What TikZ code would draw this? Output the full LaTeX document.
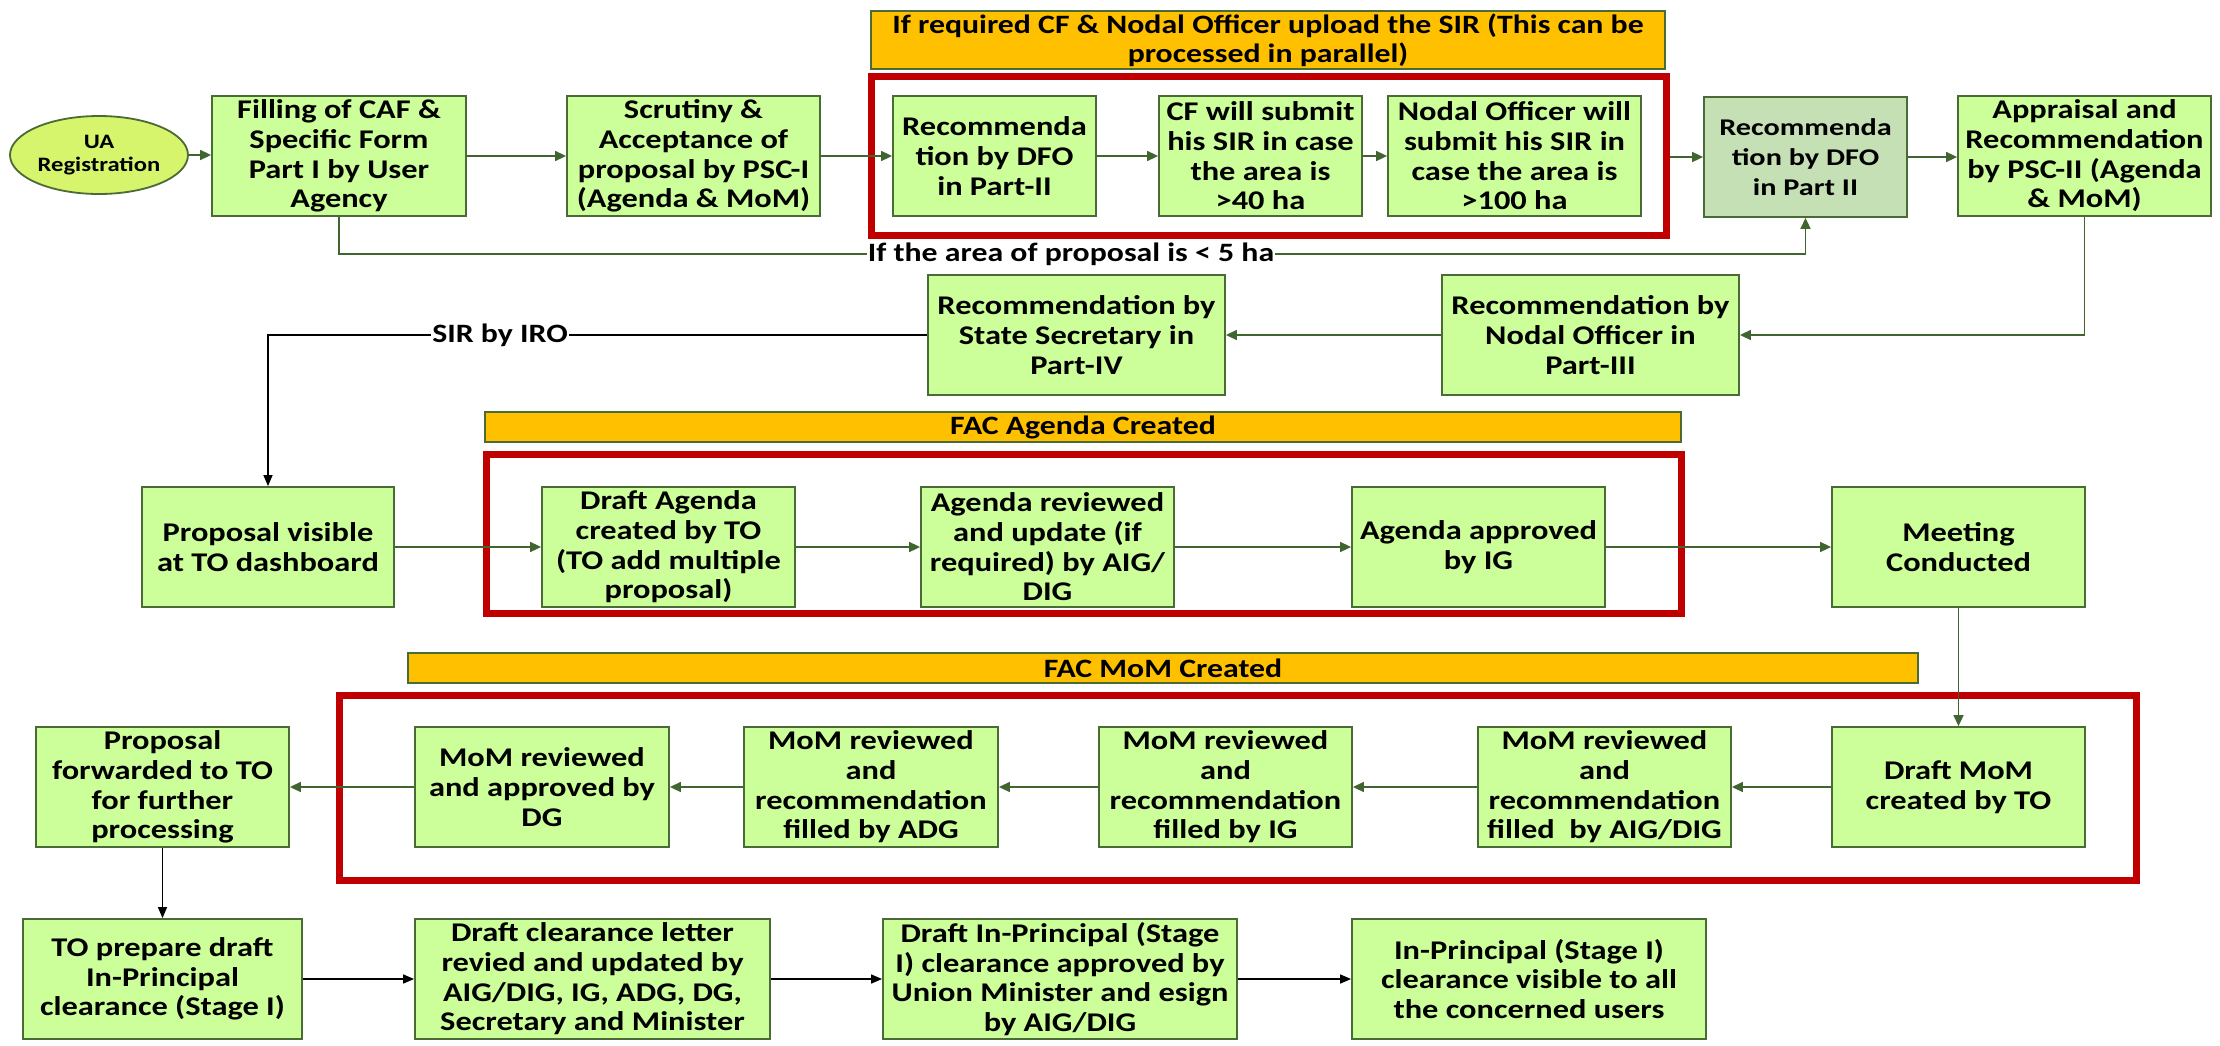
\documentclass[tikz,border=0pt]{standalone}
\usepackage{fontspec}
\setmainfont{Carlito}[FakeStretch=1.2]
\newfontfamily\dfofont{Carlito}[FakeStretch=1.26]
\usetikzlibrary{arrows.meta,shapes.geometric}

\definecolor{boxfill}{HTML}{CCFF99}
\definecolor{boxline}{HTML}{4A6B35}
\definecolor{arrowgreen}{HTML}{41652F}
\definecolor{dfofill}{HTML}{C5E0B4}
\definecolor{ellfill}{HTML}{D6F46C}
\definecolor{bannerfill}{HTML}{FFC000}
\definecolor{redline}{HTML}{C00000}

\begin{document}
\begin{tikzpicture}[x=1pt,y=-1pt,
  procbox/.style={draw=boxline, line width=1.8pt, fill=boxfill, minimum height=120pt,
    align=center, inner sep=0pt, font=\fontsize{27}{29.7}\selectfont\bfseries},
  banner/.style={draw=boxline, line width=1.8pt, fill=bannerfill, align=center,
    inner sep=0pt, font=\fontsize{26.5}{29}\selectfont\bfseries},
  redframe/.style={draw=redline, line width=7pt, inner sep=0pt},
  garrow/.style={draw=arrowgreen, line width=1.6pt, -{Triangle[length=11pt,width=10pt]}},
  barrow/.style={draw=black, line width=1.6pt, -{Triangle[length=11pt,width=9pt]}},
  lbl/.style={fill=white, inner sep=1pt, font=\fontsize{26.5}{29}\selectfont\bfseries},
]
\fill[white] (0,0) rectangle (2220,1045);
\path[use as bounding box] (0,0) rectangle (2220,1045);

% banners
\node[banner, minimum width=794pt, minimum height=58pt] (b1) at (1268,40)
  {If required CF \& Nodal Officer upload the SIR (This can be\\processed in parallel)};
\node[banner, minimum width=1196pt, minimum height=30pt] (b2) at (1083,427) {FAC Agenda Created};
\node[banner, minimum width=1510pt, minimum height=30pt] (b3) at (1163,668) {FAC MoM Created};

% red frames
\node[redframe, minimum width=795pt, minimum height=159pt] (r1) at (1269,155.5) {};
\node[redframe, minimum width=1194.5pt, minimum height=159pt] (r2) at (1083.75,534) {};
\node[redframe, minimum width=1796.5pt, minimum height=184.5pt] (r3) at (1237.75,787.75) {};

% row 1
\node[ellipse, draw=boxline, line width=1.8pt, fill=ellfill, minimum width=178pt,
  minimum height=78pt, inner sep=0pt, align=center,
  font=\fontsize{20.5}{22.7}\selectfont\bfseries] (ua) at (99,155) {UA\\Registration};
\node[procbox, minimum width=254pt] (fill) at (339,156) {Filling of CAF \&\\Specific Form\\Part I by User\\Agency};
\node[procbox, minimum width=253pt] (scr) at (693.5,156) {Scrutiny \&\\Acceptance of\\proposal by PSC-I\\(Agenda \& MoM)};
\node[procbox, minimum width=203pt] (dfo1) at (994.5,156) {Recommenda\\tion by DFO\\in Part-II};
\node[procbox, minimum width=203pt] (cf) at (1260.5,156) {CF will submit\\his SIR in case\\the area is\\>40 ha};
\node[procbox, minimum width=253pt] (nod) at (1514.5,156) {Nodal Officer will\\submit his SIR in\\case the area is\\>100 ha};
\node[procbox, fill=dfofill, minimum width=203pt, font=\dfofont\fontsize{24}{30}\selectfont\bfseries] (dfo2) at (1805.5,157) {Recommenda\\tion by DFO\\in Part II};
\node[procbox, minimum width=253pt] (app) at (2084.5,156) {Appraisal and\\Recommendation\\by PSC-II (Agenda\\\& MoM)};

% row 2
\node[procbox, minimum width=297pt] (ss) at (1076.5,335) {Recommendation by\\State Secretary in\\Part-IV};
\node[procbox, minimum width=297pt] (no3) at (1590.5,335) {Recommendation by\\Nodal Officer in\\Part-III};

% row 3
\node[procbox, minimum width=252pt] (pv) at (268,547) {Proposal visible\\at TO dashboard};
\node[procbox, minimum width=253pt] (da) at (668.5,547) {Draft Agenda\\created by TO\\(TO add multiple\\proposal)};
\node[procbox, minimum width=253pt] (ar) at (1047.5,547) {Agenda reviewed\\and update (if\\required) by AIG/\\DIG};
\node[procbox, minimum width=253pt] (aa) at (1478.5,547) {Agenda approved\\by IG};
\node[procbox, minimum width=253pt] (mc) at (1958.5,547) {Meeting\\Conducted};

% row 4
\node[procbox, minimum width=253pt] (pf) at (162.5,787) {Proposal\\forwarded to TO\\for further\\processing};
\node[procbox, minimum width=254pt] (dg) at (542,787) {MoM reviewed\\and approved by\\DG};
\node[procbox, minimum width=254pt] (adg) at (871,787) {MoM reviewed\\and\\recommendation\\filled by ADG};
\node[procbox, minimum width=253pt] (ig) at (1225.5,787) {MoM reviewed\\and\\recommendation\\filled by IG};
\node[procbox, minimum width=253pt] (aig) at (1604.5,787) {MoM reviewed\\and\\recommendation\\filled\ \ by AIG/DIG};
\node[procbox, minimum width=253pt] (dm) at (1958.5,787) {Draft MoM\\created by TO};

% row 5
\node[procbox, minimum width=279pt] (tp) at (162.5,979) {TO prepare draft\\In-Principal\\clearance (Stage I)};
\node[procbox, minimum width=355pt] (dc) at (592.5,979) {Draft clearance letter\\revied and updated by\\AIG/DIG, IG, ADG, DG,\\Secretary and Minister};
\node[procbox, minimum width=354pt] (dip) at (1060,979) {Draft In-Principal (Stage\\I) clearance approved by\\Union Minister and esign\\by AIG/DIG};
\node[procbox, minimum width=354pt] (ipv) at (1529,979) {In-Principal (Stage I)\\clearance visible to all\\the concerned users};

% connectors row 1
\draw[garrow] (ua.east) -- (ua.east -| fill.west);
\draw[garrow] (fill.east) -- (scr.west);
\draw[garrow] (scr.east) -- (dfo1.west);
\draw[garrow] (dfo1.east) -- (cf.west);
\draw[garrow] (cf.east) -- (nod.west);
\draw[garrow] (r1.east |- dfo2.west) -- (dfo2.west);
\draw[garrow] (dfo2.east) -- (dfo2.east -| app.west);
\coordinate (c5) at (1071,254);
\draw[garrow] (fill.south) |- (c5) -| (dfo2.south);
\node[lbl] (l5) at (c5) {If the area of proposal is < 5 ha};

% row 2
\draw[garrow] (app.south) |- (no3.east);
\draw[garrow] (no3.west) -- (ss.east);
\draw[barrow, line width=1.3pt] (ss.west) -| (pv.north);
\node[lbl] (lsir) at (500,335) {SIR by IRO};

% row 3
\draw[garrow] (pv.east) -- (da.west);
\draw[garrow] (da.east) -- (ar.west);
\draw[garrow] (ar.east) -- (aa.west);
\draw[garrow] (aa.east) -- (mc.west);
\draw[garrow] (mc.south) -- (dm.north);

% row 4
\draw[garrow] (dm.west) -- (aig.east);
\draw[garrow] (aig.west) -- (ig.east);
\draw[garrow] (ig.west) -- (adg.east);
\draw[garrow] (adg.west) -- (dg.east);
\draw[garrow] (dg.west) -- (pf.east);
\draw[barrow, line width=1.3pt] (pf.south) -- (tp.north);

% row 5
\draw[barrow] (tp.east) -- (dc.west);
\draw[barrow] (dc.east) -- (dip.west);
\draw[barrow] (dip.east) -- (ipv.west);
\end{tikzpicture}
\end{document}
